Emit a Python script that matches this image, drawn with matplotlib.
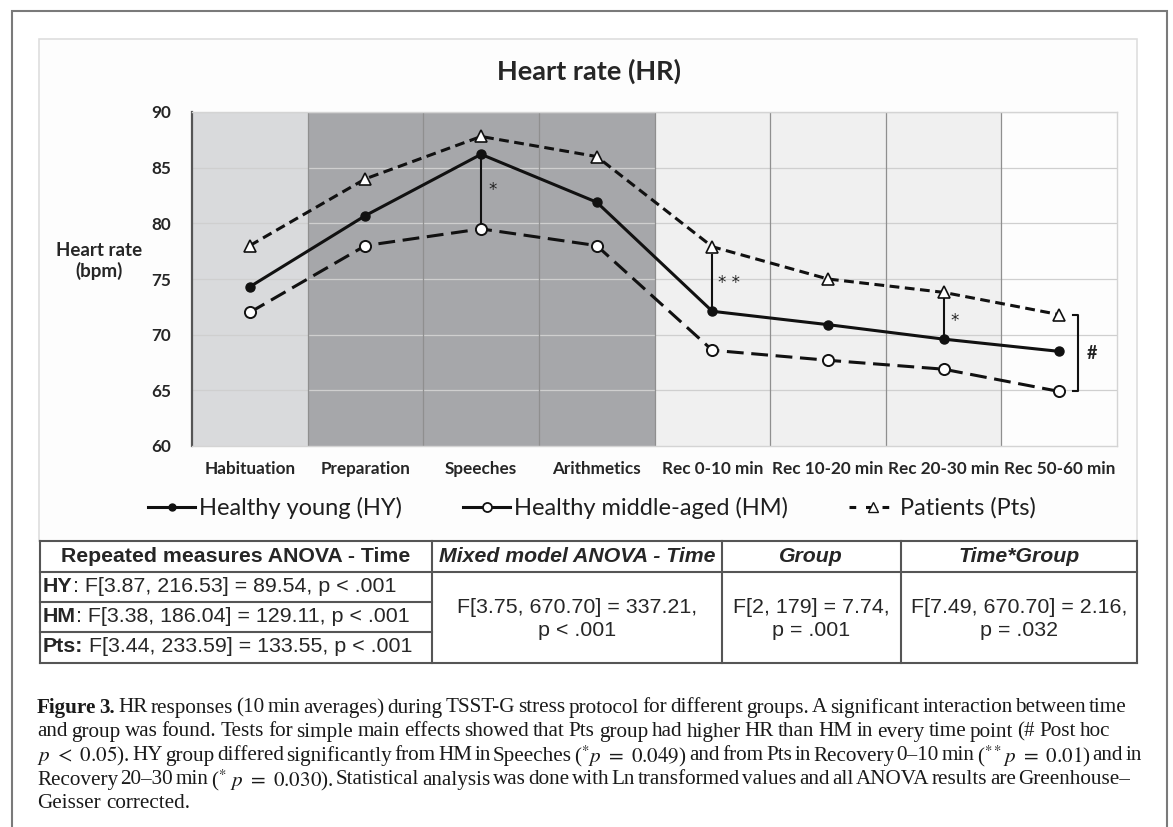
import matplotlib
matplotlib.use("Agg")
import matplotlib.pyplot as plt
from matplotlib.lines import Line2D
from matplotlib.patches import Rectangle

# mean heart rate per phase (bpm)
phases = ["Habituation", "Preparation", "Speeches", "Arithmetics",
          "Rec 0-10 min", "Rec 10-20 min", "Rec 20-30 min", "Rec 50-60 min"]
hr_hy = [74.3, 80.7, 86.2, 81.9, 72.1, 70.9, 69.6, 68.5]
hr_hm = [72.0, 78.0, 79.5, 78.0, 68.6, 67.7, 66.9, 64.9]
hr_pts = [78.0, 84.0, 87.8, 86.0, 77.9, 75.0, 73.8, 71.8]
group_names = ["Healthy young (HY)", "Healthy middle-aged (HM)", "Patients (Pts)"]

band_shades = ["#d9dadc", "#a6a7aa", "#a6a7aa", "#a6a7aa",
               "#f0f0f0", "#f0f0f0", "#f0f0f0", "#fdfdfd"]

anova_rows = [("HY", ": F[3.87, 216.53] = 89.54, p < .001"),
              ("HM", ": F[3.38, 186.04] = 129.11, p < .001"),
              ("Pts:", " F[3.44, 233.59] = 133.55, p < .001")]
table_heads = ["Repeated measures ANOVA - Time", "Mixed model ANOVA - Time",
               "Group", "Time*Group"]
mixed_res = "F[3.75, 670.70] = 337.21,\np < .001"
group_res = "F[2, 179] = 7.74,\np = .001"
inter_res = "F[7.49, 670.70] = 2.16,\np = .032"

caption = [
    r"Figure 3. HR responses (10 min averages) during TSST-G stress protocol for different groups. A significant interaction between time",
    r"and group was found. Tests for simple main effects showed that Pts group had higher HR than HM in every time point (# Post hoc",
    r"$p\ <\ 0.05$). HY group differed significantly from HM in Speeches (${}^{*}p\ =\ 0.049$) and from Pts in Recovery 0–10 min (${}^{**}p\ =\ 0.01$) and in",
    r"Recovery 20–30 min (${}^{*}\ p\ =\ 0.030$). Statistical analysis was done with Ln transformed values and all ANOVA results are Greenhouse–",
    r"Geisser corrected.",
]

plt.rcParams["mathtext.fontset"] = "stix"

W, H = 1173, 827
fig = plt.figure(figsize=(W / 100, H / 100), dpi=100)
fig.patch.set_facecolor("white")


def fx(px):
    return px / W


def fy(py):
    return 1 - py / H


def hline(y, x0, x1, **kw):
    fig.add_artist(Line2D([fx(x0), fx(x1)], [fy(y), fy(y)], **kw))


def vline(x, y0, y1, **kw):
    fig.add_artist(Line2D([fx(x), fx(x)], [fy(y0), fy(y1)], **kw))


# outer frame and chart box
fig.add_artist(Rectangle((fx(12), fy(900)), fx(1167) - fx(12), fy(11) - fy(900),
                         transform=fig.transFigure, fill=False,
                         edgecolor="#7a7a7a", lw=1.5, zorder=-5))
fig.add_artist(Rectangle((fx(39), fy(541)), fx(1137) - fx(39), fy(39) - fy(541),
                         transform=fig.transFigure, facecolor="#fdfdfd",
                         edgecolor="#dedede", lw=1.2, zorder=-5))

fig.text(fx(589), fy(71), "Heart rate (HR)", family="Lato", fontweight="bold",
         fontsize=19.5, color="#262626", ha="center", va="center")
fig.text(fx(99), fy(261), "Heart rate\n(bpm)", family="Lato", fontweight="bold",
         fontsize=13.5, color="#262626", ha="center", va="center", linespacing=1.25)

ax = fig.add_axes([fx(192), fy(446), fx(1117) - fx(192), fy(112) - fy(446)])
x = list(range(len(phases)))
ax.set_xlim(-0.5, len(phases) - 0.5)
ax.set_ylim(60, 90)
for i, c in enumerate(band_shades):
    ax.axvspan(i - 0.5, i + 0.5, color=c, lw=0, zorder=0)
for v in range(65, 91, 5):
    ax.axhline(v, color="#cfcfcf", lw=0.9, zorder=1)
for i in range(1, len(phases)):
    ax.axvline(i - 0.5, color="#8f8f8f", lw=0.9, zorder=1)

ax.plot(x, hr_hy, color="#111111", lw=2.2, marker="o", ms=6.5, mfc="#111111",
        mec="#111111", zorder=5)
ax.plot(x, hr_hm, color="#111111", lw=2.2, dashes=(5.5, 2.5), marker="o", ms=8,
        mfc="white", mec="#111111", mew=1.4, zorder=4)
ax.plot(x, hr_pts, color="#111111", lw=2.2, dashes=(3.2, 1.8), marker="^", ms=9,
        mfc="white", mec="#111111", mew=1.2, zorder=4)

# significance marks
sig_kw = dict(color="#111111", lw=1.5, zorder=3)
ax.plot([2, 2], [hr_hy[2], hr_hm[2] + 0.5], **sig_kw)
ax.text(2.1, 83.0, "*", fontsize=12, ha="center", va="center", color="#222")
ax.plot([4, 4], [hr_pts[4] - 0.7, hr_hy[4]], **sig_kw)
ax.text(4.14, 74.6, "* *", fontsize=12, ha="center", va="center", color="#222")
ax.plot([6, 6], [hr_pts[6] - 0.6, hr_hy[6]], **sig_kw)
ax.text(6.1, 71.2, "*", fontsize=12, ha="center", va="center", color="#222")
ax.plot([7.12, 7.165, 7.165, 7.12], [hr_pts[7], hr_pts[7], hr_hm[7], hr_hm[7]],
        **sig_kw)
ax.text(7.28, (hr_pts[7] + hr_hm[7]) / 2, "#", family="Lato", fontweight="bold",
        fontsize=13, ha="center", va="center", color="#222")

ax.set_xticks(x)
ax.set_xticklabels(phases)
ax.set_yticks(range(60, 91, 5))
ax.tick_params(length=0, labelsize=12.3, colors="#262626")
ax.tick_params(axis="x", pad=11)
ax.tick_params(axis="y", pad=15)
for lab in ax.get_xticklabels() + ax.get_yticklabels():
    lab.set_family("Lato")
    lab.set_fontweight("bold")
ax.spines["left"].set_color("#555555")
ax.spines["left"].set_linewidth(1.6)
for s in ["top", "right", "bottom"]:
    ax.spines[s].set_color("#d4d4d4")
    ax.spines[s].set_linewidth(1)

# legend keys as drawn in the original (short solid keys, dashed key for patients)
keys = [Line2D([], [], color="#111111", lw=2.2, marker="o", ms=5, mfc="#111111"),
        Line2D([], [], color="#111111", lw=2.2, marker="o", ms=6.5, mfc="white", mew=1.3),
        Line2D([], [], color="#111111", lw=2.2, dashes=(2.2, 3.2), marker="^", ms=6.5,
               mfc="white", mew=1.0)]
fig.legend(keys, group_names, loc="center", bbox_to_anchor=(fx(592), fy(508)),
           ncol=3, frameon=False, prop={"family": "Lato", "size": 17},
           handlelength=2.0, handletextpad=0.15, columnspacing=2.6,
           labelcolor="#1f1f1f")

# results table
tcol = "#555555"
for yy in (541, 572, 663):
    hline(yy, 40, 1137, color=tcol, lw=1.5)
for yy in (602, 632):
    hline(yy, 40, 432, color=tcol, lw=1.5)
for xx in (40, 432, 722, 901, 1137):
    vline(xx, 541, 663, color=tcol, lw=1.5)

tf = dict(family="Liberation Sans", color="#262626", va="center")
head_x = [236, 577, 811, 1019]
for k, (hx, head) in enumerate(zip(head_x, table_heads)):
    fig.text(fx(hx), fy(556), head, fontsize=15.3, fontweight="bold",
             style="normal" if k == 0 else "italic", ha="center", **tf)

renderer = fig.canvas.get_renderer()
for k, (tag, rest) in enumerate(anova_rows):
    yy = 587 + 30 * k
    t = fig.text(fx(43), fy(yy), tag, fontsize=15.4, fontweight="bold", ha="left", **tf)
    w = t.get_window_extent(renderer).width
    fig.text(fx(43) + w / W, fy(yy), rest, fontsize=15.4, ha="left", **tf)

for cx, txt in ((577, mixed_res), (811, group_res), (1019, inter_res)):
    fig.text(fx(cx), fy(619), txt, fontsize=15.4, ha="center",
             linespacing=1.25, **tf)


# caption, justified line by line
def split_words(line):
    words, cur, in_math = [], "", False
    for ch in line:
        if ch == "$":
            in_math = not in_math
        if ch == " " and not in_math:
            if cur:
                words.append(cur)
            cur = ""
        else:
            cur += ch
    if cur:
        words.append(cur)
    return words


cap_size = 15.2
cap_y = [708, 732, 756, 780, 803]
cap_right = [1127, 1110, 1142, 1130, None]
for n, line in enumerate(caption):
    words = split_words(line)
    texts = []
    for j, wd in enumerate(words):
        bold = n == 0 and j < 2
        texts.append(fig.text(0, fy(cap_y[n]), wd, family="Liberation Serif",
                              fontsize=cap_size, fontweight="bold" if bold else "normal",
                              color="#1a1a1a", va="center", ha="left"))
    widths = [t.get_window_extent(renderer).width for t in texts]
    space = cap_size * 100 / 72 * 0.25
    if cap_right[n] is not None and len(words) > 1:
        space = (cap_right[n] - 37 - sum(widths)) / (len(words) - 1)
    xx = 37
    for t, w in zip(texts, widths):
        t.set_x(fx(xx))
        xx += w + space

fig.savefig("out.png", dpi=100)
